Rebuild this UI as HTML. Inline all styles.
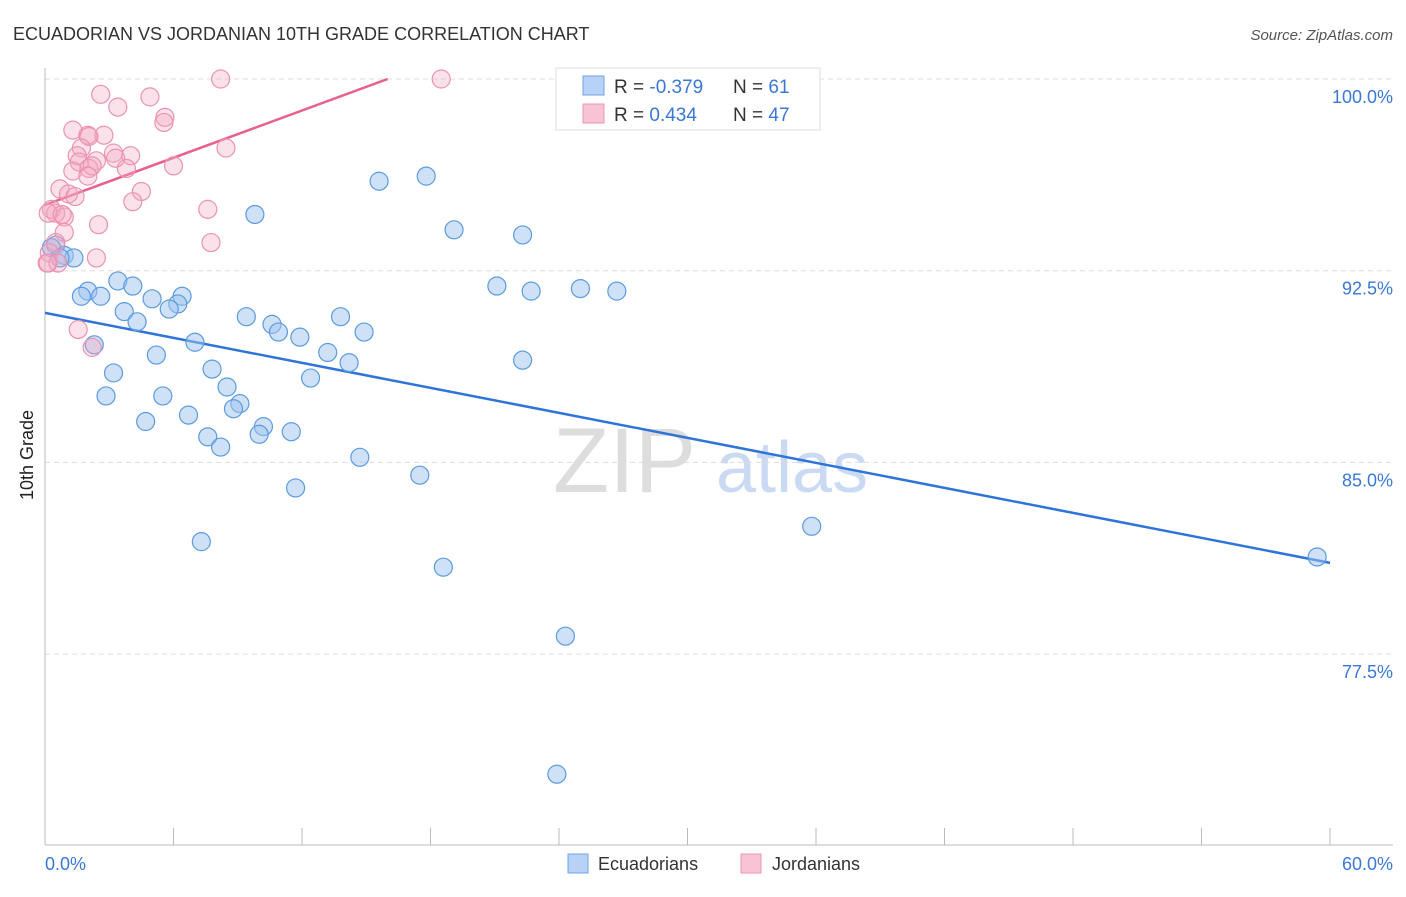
<!DOCTYPE html>
<html><head><meta charset="utf-8"><style>
body{margin:0;background:#fff;font-family:"Liberation Sans",sans-serif}
svg text{font-family:"Liberation Sans",sans-serif}
</style></head><body>
<svg id="chart" width="1406" height="892" viewBox="0 0 1406 892">
<text x="13" y="40" font-size="18" fill="#333">ECUADORIAN VS JORDANIAN 10TH GRADE CORRELATION CHART</text>
<text x="1393" y="40" font-size="15" fill="#555" font-style="italic" text-anchor="end">Source: ZipAtlas.com</text>
<text transform="translate(33,455) rotate(-90)" font-size="18" fill="#222" text-anchor="middle">10th Grade</text>
<g>
<text x="553" y="492" font-size="92" fill="#ddd" font-family="Liberation Serif,serif">ZIP</text>
<text x="716" y="492" font-size="72" fill="#c9daf2">atlas</text>
</g>
<g id="grid"></g><g id="axes"></g><g id="lines"></g><g id="pts"></g>
<g>
<rect x="556" y="68" width="264" height="62" fill="#fff" stroke="#ddd"/>
<rect x="583" y="76" width="21" height="19" fill="#b8d2f5" stroke="#6fa3e6"/>
<rect x="583" y="104" width="21" height="19" fill="#f8c3d4" stroke="#ec97b3"/>
<text x="614" y="93" font-size="19" fill="#333">R = <tspan fill="#3a78d4">-0.379</tspan></text>
<text x="733" y="93" font-size="19" fill="#333">N = <tspan fill="#3a78d4"> 61</tspan></text>
<text x="614" y="121" font-size="19" fill="#333">R = <tspan fill="#3a78d4"> 0.434</tspan></text>
<text x="733" y="121" font-size="19" fill="#333">N = <tspan fill="#3a78d4">47</tspan></text>
</g>
<g>
<rect x="568" y="854" width="20" height="19" fill="#b8d2f5" stroke="#6fa3e6"/>
<text x="598" y="870" font-size="18" fill="#333">Ecuadorians</text>
<rect x="741" y="854" width="20" height="19" fill="#f8c3d4" stroke="#ec97b3"/>
<text x="772" y="870" font-size="18" fill="#333">Jordanians</text>
</g>
</svg>
<script>
const yTicks=[100,92.5,85,77.5];
const yTickLabels=["100.0%","92.5%","85.0%","77.5%"];
const xTickCount=10;
const xLabels=["0.0%","60.0%"];
const blueX=[15.6,17.8,9.8,19.1,22.3,0.5,0.3,0.9,1.35,0.7,21.1,22.7,25.0,26.7,3.4,4.1,2.0,1.7,2.6,5.0,6.4,6.2,5.8,3.7,4.3,9.4,10.6,10.9,11.9,13.8,14.9,7.0,2.3,13.2,14.2,22.3,5.2,7.8,3.2,12.4,8.5,2.85,5.5,9.1,8.8,6.7,4.7,10.2,10.0,11.5,7.6,8.2,14.7,17.5,11.7,35.8,7.3,18.6,24.3,23.9,59.4];
const blueY=[96.0,96.2,94.7,94.1,93.9,93.5,93.4,93.1,93.0,93.0,91.9,91.7,91.8,91.7,92.1,91.9,91.7,91.5,91.5,91.4,91.5,91.2,91.0,90.9,90.5,90.7,90.4,90.1,89.9,90.7,90.1,89.7,89.6,89.3,88.9,89.0,89.2,88.65,88.5,88.3,87.95,87.6,87.6,87.3,87.1,86.85,86.6,86.4,86.1,86.2,86.0,85.6,85.2,84.5,84.0,82.5,81.9,80.9,78.2,72.8,81.3];
const pinkX=[8.2,18.5,2.6,3.4,4.9,5.6,5.55,1.3,2.0,2.75,2.05,8.45,1.7,1.5,3.2,4.0,2.4,3.3,1.6,3.8,1.3,2.05,2.2,6.0,2.0,4.5,0.7,1.1,1.4,4.1,7.6,0.3,0.5,0.9,0.15,2.5,0.9,7.75,0.5,0.2,0.15,2.4,0.6,1.55,2.2,0.1,0.8];
const pinkY=[100.0,100.0,99.4,98.9,99.3,98.5,98.3,98.0,97.8,97.8,97.75,97.3,97.3,97.0,97.1,97.0,96.8,96.9,96.75,96.5,96.4,96.5,96.6,96.6,96.2,95.6,95.7,95.5,95.4,95.2,94.9,94.9,94.75,94.6,94.75,94.3,94.0,93.6,93.6,93.2,92.8,93.0,92.8,90.2,89.5,92.8,94.7];
const blueTrend=[[0,90.85],[60,81.07]];
const pinkTrend=[[0,95.07],[16.0,100.0]];
const NS="http://www.w3.org/2000/svg";
const X=v=>45+v/60*1285;
const Y=v=>79+(100-v)/7.5*191.7;
function mk(tag,attrs,parent){const e=document.createElementNS(NS,tag);for(const k in attrs)e.setAttribute(k,attrs[k]);document.getElementById(parent).appendChild(e);return e;}
yTicks.forEach((t,i)=>{
 const g=mk('line',{x1:45,x2:1393,y1:Y(t),y2:Y(t),stroke:'#ddd','stroke-dasharray':'5,4'},'grid');
 
 
 const l=mk('text',{x:1393,y:Y(t)+24,'font-size':18,fill:'#3a78d4','text-anchor':'end'},'axes');
 l.textContent=yTickLabels[i];
 
 
});
const ax=mk('line',{x1:45,x2:45,y1:68,y2:845,stroke:'#bbb'},'axes');


const bx=mk('line',{x1:45,x2:1393,y1:845,y2:845,stroke:'#bbb'},'axes');


for(let i=0;i<=xTickCount;i++){
 const t=mk('line',{x1:X(i*6),x2:X(i*6),y1:828,y2:845,stroke:'#bbb'},'axes');
 
 
}
const xl0=mk('text',{x:45,y:870,'font-size':18,fill:'#3a78d4'},'axes');xl0.textContent=xLabels[0];


const xl1=mk('text',{x:1393,y:870,'font-size':18,fill:'#3a78d4','text-anchor':'end'},'axes');xl1.textContent=xLabels[1];


blueX.forEach((v,i)=>{
 const c=mk('circle',{cx:X(v),cy:Y(blueY[i]),r:9,fill:'rgba(160,196,240,0.5)',stroke:'#5b9be0','stroke-width':1.2},'pts');
 
 
});
pinkX.forEach((v,i)=>{
 const c=mk('circle',{cx:X(v),cy:Y(pinkY[i]),r:9,fill:'rgba(244,170,195,0.35)',stroke:'#eb93b0','stroke-width':1.2},'pts');
 
 
});
const bl=mk('line',{x1:X(blueTrend[0][0]),y1:Y(blueTrend[0][1]),x2:X(blueTrend[1][0]),y2:Y(blueTrend[1][1]),stroke:'#2f74d8','stroke-width':2.5},'lines');


const pl=mk('line',{x1:X(pinkTrend[0][0]),y1:Y(pinkTrend[0][1]),x2:X(pinkTrend[1][0]),y2:Y(pinkTrend[1][1]),stroke:'#e8608c','stroke-width':2.5},'lines');


</script>
</body></html>
